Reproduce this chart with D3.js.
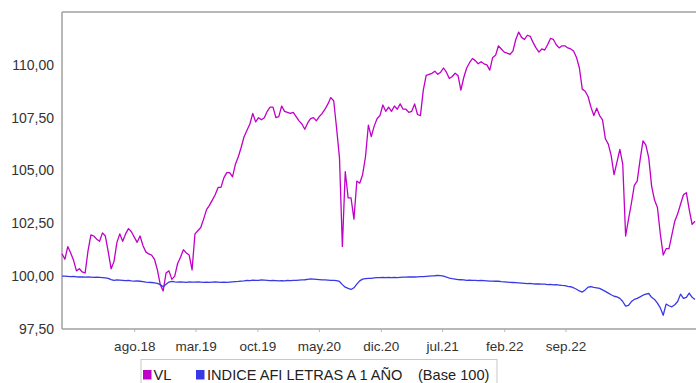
<!DOCTYPE html>
<html>
<head>
<meta charset="utf-8">
<script src="https://cdn.jsdelivr.net/npm/d3@7"></script>
<style>
    body { margin: 0; background: #fff; font-family: "Liberation Sans", Arial, sans-serif; }
    #chart { width: 696px; height: 383px; overflow: hidden; }
</style>
</head>
<body>
<div id="chart"></div>
<script>
// one value every 10 days, starting on startDate
const startDate = "2017-11-24";
const stepDays = 10;

const vlValues = [
    101.06, 100.8, 101.4, 101.1, 100.75, 100.25, 100.35, 100.2, 100.15, 101.2,
    101.95, 101.9, 101.75, 101.65, 102.05, 101.9, 101.15, 100.35, 100.7, 101.6,
    102.0, 101.65, 102.0, 102.25, 102.1, 101.85, 101.6, 101.9, 101.45, 101.15,
    101.05, 101.0, 100.8, 100.3, 99.6, 99.3, 100.15, 100.25, 99.85, 100.0,
    100.6, 100.9, 101.25, 101.1, 101.0, 100.3, 102.0, 102.15, 102.3, 102.7,
    103.15, 103.35, 103.6, 103.85, 104.2, 104.2, 104.65, 104.9, 104.9, 104.7,
    105.3, 105.65, 106.1, 106.6, 106.9, 107.2, 107.7, 107.3, 107.5, 107.4,
    107.5, 107.8, 108.0, 108.0, 107.5, 107.55, 108.05, 107.8, 107.75, 107.7,
    107.75, 107.55, 107.35, 107.2, 106.95, 107.25, 107.45, 107.5, 107.35, 107.55,
    107.7, 107.9, 108.15, 108.45, 108.3, 107.0, 105.6, 101.4, 104.95, 103.7,
    103.7, 102.7, 104.5, 104.4, 104.8, 105.65, 107.15, 106.6, 107.1, 107.45,
    107.6, 108.1, 107.8, 108.0, 107.8, 108.05, 107.9, 108.15, 107.9, 107.9,
    107.75, 107.8, 108.15, 107.65, 107.6, 108.8, 109.5, 109.55, 109.6, 109.7,
    109.55, 109.65, 109.85, 109.65, 109.35, 109.45, 109.6, 109.5, 108.8, 109.4,
    109.85, 110.1, 110.3, 110.2, 110.05, 110.15, 110.05, 110.0, 109.75, 110.35,
    110.45, 110.9, 110.75, 110.6, 110.55, 110.5, 110.65, 111.2, 111.55, 111.3,
    111.2, 111.4, 111.35, 111.05, 110.8, 110.6, 110.75, 110.7, 110.95, 111.25,
    111.2, 110.95, 110.8, 110.9, 110.9, 110.8, 110.75, 110.65, 110.35, 109.85,
    108.85, 108.75, 108.5, 108.0, 107.6, 107.95, 107.6, 107.4, 106.5, 106.25,
    105.7, 104.8, 105.4, 106.0, 105.3, 101.9, 102.7, 103.45, 104.3, 104.5,
    105.5, 106.4, 106.2, 105.6, 104.25, 103.6, 103.25, 102.0, 101.0, 101.3,
    101.3, 101.95, 102.6, 102.95, 103.4, 103.85, 103.95, 103.15, 102.45, 102.6
];

const indexValues = [
    100.0, 100.0, 99.99, 99.98, 99.99, 99.97, 99.96, 99.97, 99.95, 99.96,
    99.95, 99.94, 99.95, 99.94, 99.93, 99.92, 99.9, 99.84, 99.8, 99.82,
    99.81, 99.8, 99.79, 99.8, 99.78, 99.77, 99.78, 99.76, 99.74, 99.72,
    99.71, 99.7, 99.68, 99.66, 99.6, 99.5, 99.62, 99.72, 99.75, 99.73,
    99.72, 99.73, 99.72, 99.71, 99.73, 99.72, 99.72, 99.73, 99.72, 99.71,
    99.72, 99.71, 99.72, 99.73, 99.72, 99.71, 99.72, 99.71, 99.72, 99.73,
    99.74, 99.75, 99.77, 99.78, 99.8, 99.79, 99.81, 99.8, 99.8, 99.82,
    99.81, 99.8, 99.79, 99.8, 99.79, 99.78, 99.79, 99.78, 99.8, 99.79,
    99.8, 99.8, 99.81, 99.82, 99.83, 99.85, 99.87, 99.86, 99.85, 99.84,
    99.82, 99.82, 99.81, 99.8, 99.8, 99.79, 99.75, 99.6, 99.48, 99.42,
    99.37, 99.45, 99.62, 99.78, 99.86, 99.88, 99.9, 99.9, 99.92, 99.93,
    99.93, 99.94, 99.93, 99.94, 99.93, 99.94, 99.93, 99.94, 99.95, 99.95,
    99.96, 99.97, 99.96, 99.97, 99.98, 99.98, 99.99, 100.0, 100.01, 100.02,
    100.04, 100.03, 100.0, 99.96, 99.91, 99.88, 99.86, 99.84, 99.83, 99.82,
    99.8, 99.81, 99.8, 99.8, 99.79, 99.8, 99.79, 99.78, 99.77, 99.77,
    99.76, 99.76, 99.74, 99.73, 99.72, 99.71, 99.7, 99.69, 99.68, 99.67,
    99.66, 99.65, 99.66, 99.64, 99.63, 99.64, 99.62, 99.62, 99.6, 99.61,
    99.59, 99.6, 99.58, 99.56, 99.55, 99.52, 99.5, 99.45, 99.38, 99.3,
    99.25, 99.35, 99.48, 99.5, 99.47, 99.45, 99.42, 99.35, 99.28, 99.2,
    99.12, 99.05, 99.02, 98.95, 98.8, 98.58, 98.62, 98.8, 98.9, 98.95,
    99.02, 99.1, 99.15, 99.18, 99.0, 98.9, 98.72, 98.5, 98.15, 98.68,
    98.6, 98.55, 98.65, 98.8, 99.15, 98.95, 99.0, 99.2, 99.0, 98.9
];

const tickDates = ["2018-08-01", "2019-03-01", "2019-10-01", "2020-05-01",
    "2020-12-01", "2021-07-01", "2022-02-01", "2022-09-01"];
const tickLabels = ["ago.18", "mar.19", "oct.19", "may.20", "dic.20", "jul.21", "feb.22", "sep.22"];
const yTicks = [97.5, 100, 102.5, 105, 107.5, 110];
const yDomain = [97.5, 112.5];
const seriesNames = ["VL", "INDICE AFI LETRAS A 1 AÑO"];
const legendNote = "(Base 100)";


class LineVis {
    constructor(parentElement) {
        this.parentElement = parentElement;
        this.displayData = [];
    }

    initVis() {
        let vis = this;

        vis.margin = {top: 12, right: 1, bottom: 54, left: 62};
        vis.width = 696 - vis.margin.left - vis.margin.right;
        vis.height = 383 - vis.margin.top - vis.margin.bottom;

        vis.svg = d3.select("#" + vis.parentElement).append("svg")
            .attr("width", 696)
            .attr("height", 383)
            .append("g")
            .attr("transform", "translate(" + vis.margin.left + "," + vis.margin.top + ")");

        vis.wrangleData();
    }

    wrangleData() {
        let vis = this;
        let parse = d3.timeParse("%Y-%m-%d");
        let start = parse(startDate);

        let makeSeries = (values) => values.map((v, i) => ({
            date: d3.timeDay.offset(start, i * stepDays),
            value: v
        }));

        vis.displayData = [
            {name: seriesNames[0], color: "#c000c8", values: makeSeries(vlValues)},
            {name: seriesNames[1], color: "#3838e6", values: makeSeries(indexValues)}
        ];
        vis.ticks = tickDates.map(parse);

        vis.updateVis();
    }

    updateVis() {
        let vis = this;

        let x = d3.scaleTime()
            .domain(d3.extent(vis.displayData[0].values, d => d.date))
            .range([0, vis.width]);

        let y = d3.scaleLinear()
            .domain(yDomain)
            .range([vis.height, 0]);

        let esLocale = d3.formatLocale({decimal: ",", thousands: ".", grouping: [3], currency: ["", " €"]});
        let fmt = esLocale.format(".2f");

        // y axis labels
        let yAxis = vis.svg.append("g")
            .attr("class", "y-axis")
            .call(d3.axisLeft(y).tickValues(yTicks).tickSize(0).tickPadding(8).tickFormat(fmt));
        yAxis.select(".domain").remove();
        yAxis.selectAll("text")
            .attr("fill", "#333")
            .style("font-size", "14px")
            .style("font-family", "Liberation Sans, Arial, sans-serif");

        // x axis labels
        let xAxis = vis.svg.append("g")
            .attr("class", "x-axis")
            .attr("transform", "translate(0," + vis.height + ")")
            .call(d3.axisBottom(x).tickValues(vis.ticks).tickSize(3).tickPadding(9)
                .tickFormat((d, i) => tickLabels[i]));
        xAxis.select(".domain").remove();
        xAxis.selectAll("line").attr("stroke", "#bbb");
        xAxis.selectAll("text")
            .attr("fill", "#333")
            .style("font-size", "13.5px")
            .style("font-family", "Liberation Sans, Arial, sans-serif");

        // frame
        let frame = vis.svg.append("g").attr("class", "frame");
        frame.append("line")
            .attr("x1", 0).attr("x2", vis.width + 2)
            .attr("y1", 0).attr("y2", 0);
        frame.append("line")
            .attr("x1", 0).attr("x2", 0)
            .attr("y1", 0).attr("y2", vis.height);
        frame.append("line")
            .attr("x1", 0).attr("x2", vis.width + 2)
            .attr("y1", vis.height).attr("y2", vis.height);
        frame.selectAll("line")
            .attr("stroke", "#a0a0a0")
            .attr("stroke-width", 1.5);

        let line = d3.line()
            .x(d => x(d.date))
            .y(d => y(d.value));

        vis.svg.selectAll(".series")
            .data(vis.displayData)
            .enter()
            .append("path")
            .attr("class", "series")
            .attr("d", d => line(d.values))
            .attr("fill", "none")
            .attr("stroke", d => d.color)
            .attr("stroke-width", 1.3)
            .attr("stroke-linejoin", "round");

        // legend, drawn in page coordinates
        let legend = d3.select("#" + vis.parentElement).select("svg")
            .append("g")
            .attr("class", "legend")
            .attr("transform", "translate(141,359.5)");

        legend.append("rect")
            .attr("x", 0).attr("y", 0)
            .attr("width", 356).attr("height", 30)
            .attr("fill", "#fff")
            .attr("stroke", "#c8c8c8");

        let itemX = [2, 55];
        let textX = [12.5, 66];
        vis.displayData.forEach((s, i) => {
            legend.append("rect")
                .attr("x", itemX[i]).attr("y", 10.5)
                .attr("width", 8.5).attr("height", 9.5)
                .attr("fill", s.color);
            legend.append("text")
                .attr("x", textX[i]).attr("y", 20)
                .attr("fill", "#222")
                .style("font-size", "14.6px")
                .text(s.name);
        });
        legend.append("text")
            .attr("x", 277).attr("y", 20)
            .attr("fill", "#222")
            .style("font-size", "14.6px")
            .text(legendNote);
    }
}

let lineVis = new LineVis("chart");
lineVis.initVis();
</script>
</body>
</html>
